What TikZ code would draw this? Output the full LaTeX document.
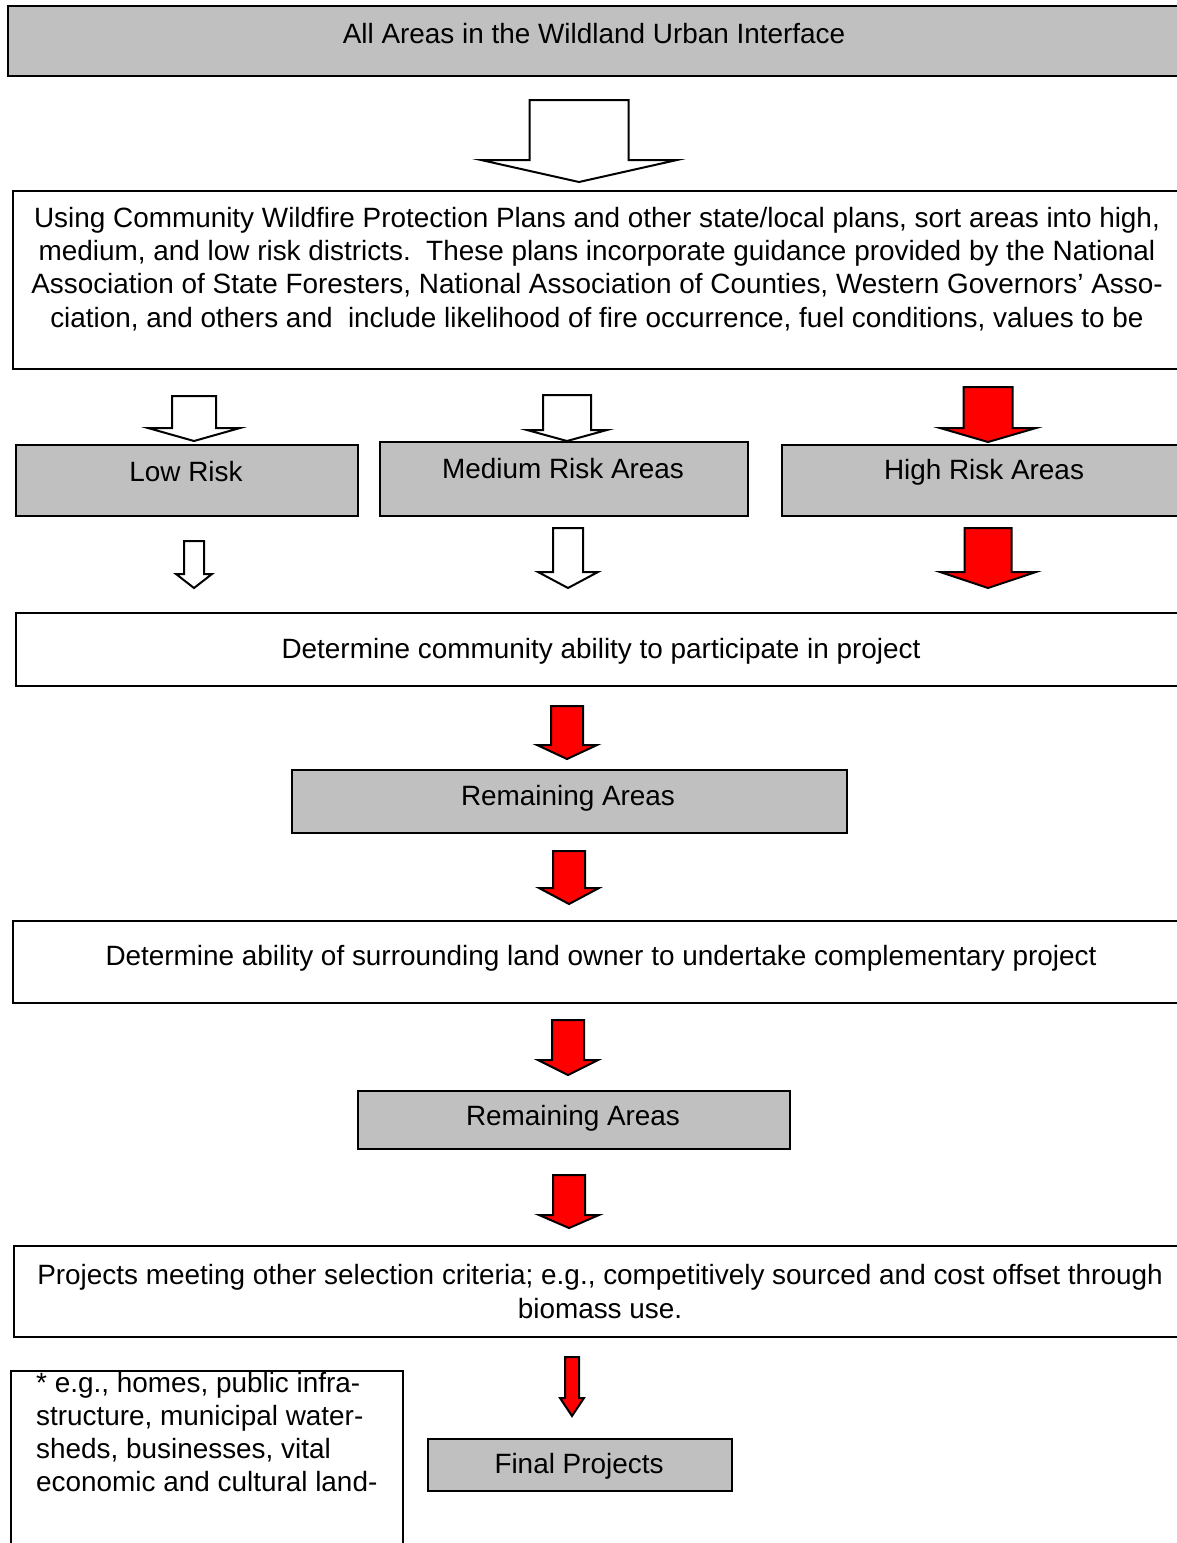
\documentclass[tikz,border=0pt]{standalone}
\usepackage{fontspec}
\setmainfont{Liberation Sans}
\definecolor{boxgray}{RGB}{192,192,192}
\definecolor{arrowred}{RGB}{255,0,0}
\tikzset{
	graybox/.style={draw, line width=2pt, fill=boxgray, anchor=north west, inner sep=0pt},
	whitebox/.style={draw, line width=2pt, fill=white, anchor=north west, inner sep=0pt},
	txt/.style={font=\fontsize{27.9}{33.3}\selectfont, inner sep=0pt, align=center},
}
% block arrow: fill, centre x, top, shaft end, tip, half shaft, half head
\newcommand{\blockarrow}[7]{%
	\draw[fill=#1, line width=2pt, line join=miter]
		(#2-#6,#3) -- (#2+#6,#3) -- (#2+#6,#4) -- (#2+#7,#4) -- (#2,#5)
		-- (#2-#7,#4) -- (#2-#6,#4) -- cycle;}

\begin{document}
\begin{tikzpicture}[x=1pt, y=-1pt]
	\useasboundingbox (0,0) rectangle (1177,1543);
	\clip (0,0) rectangle (1177,1543);

	% boxes
	\node[graybox, minimum width=1185, minimum height=70] (wui) at (7,5) {};
	\node[whitebox, minimum width=1180, minimum height=178] (plans) at (12,190) {};
	\node[graybox, minimum width=342, minimum height=71] (low) at (15,444) {};
	\node[graybox, minimum width=368, minimum height=74] (medium) at (379,441) {};
	\node[graybox, minimum width=411, minimum height=71] (high) at (781,444) {};
	\node[whitebox, minimum width=1177, minimum height=73] (community) at (15,612) {};
	\node[graybox, minimum width=555, minimum height=63] (remainA) at (291,769) {};
	\node[whitebox, minimum width=1180, minimum height=82] (owner) at (12,920) {};
	\node[graybox, minimum width=432, minimum height=58] (remainB) at (357,1090) {};
	\node[whitebox, minimum width=1179, minimum height=91] (criteria) at (13,1245) {};
	\node[graybox, minimum width=304, minimum height=52] (final) at (427,1438) {};
	\node[whitebox, minimum width=392, minimum height=200] (note) at (10,1370) {};

	% texts
	\node[txt] (wuiText) at (594,34) {All Areas in the Wildland Urban Interface};
	\node[txt] (plansText) at (597,269) {Using Community Wildfire Protection Plans and other state/local plans, sort areas into high,\\
		medium, and low risk districts.\ \ These plans incorporate guidance provided by the National\\
		Association of State Foresters, National Association of Counties, Western Governors’ Asso-\\
		ciation, and others and\ \ include likelihood of fire occurrence, fuel conditions, values to be};
	\node[txt] (lowText) at (186,472) {Low Risk};
	\node[txt] (mediumText) at (563,469) {Medium Risk Areas};
	\node[txt] (highText) at (984,472) {High Risk Areas};
	\node[txt] (communityText) at (601,651) {Determine community ability to participate in project};
	\node[txt] (remainAText) at (568,798) {Remaining Areas};
	\node[txt] (ownerText) at (601,958) {Determine ability of surrounding land owner to undertake complementary project};
	\node[txt] (remainBText) at (573,1118) {Remaining Areas};
	\node[txt] (criteriaText) at (600,1291.5) {Projects meeting other selection criteria; e.g., competitively sourced and cost offset through\\
		biomass use.};
	\node[txt] (finalText) at (579,1466) {Final Projects};
	\node[txt, align=left, anchor=west] (noteText) at (36,1432) {* e.g., homes, public infra-\\
		structure, municipal water-\\
		sheds, businesses, vital\\
		economic and cultural land-};

	% arrows
	\blockarrow{white}{579}{100}{160}{182}{49.5}{98}
	\blockarrow{white}{194}{396}{428}{441}{22}{46}
	\blockarrow{white}{567}{395}{430}{441}{24}{40}
	\blockarrow{arrowred}{988}{387}{428}{442}{24.5}{48}
	\blockarrow{white}{194}{541}{574}{588}{10}{18}
	\blockarrow{white}{568}{528}{572}{588}{15}{30}
	\blockarrow{arrowred}{988}{528}{572}{588}{23.5}{48}
	\foreach \ytop/\yend/\ytip/\xc in {706/745/759/567, 851/888/904/569, 1020/1060/1075/568, 1175/1215/1228/569} {
		\blockarrow{arrowred}{\xc}{\ytop}{\yend}{\ytip}{16}{30}
	}
	\blockarrow{arrowred}{572}{1357}{1398}{1416}{7}{12}
\end{tikzpicture}
\end{document}
